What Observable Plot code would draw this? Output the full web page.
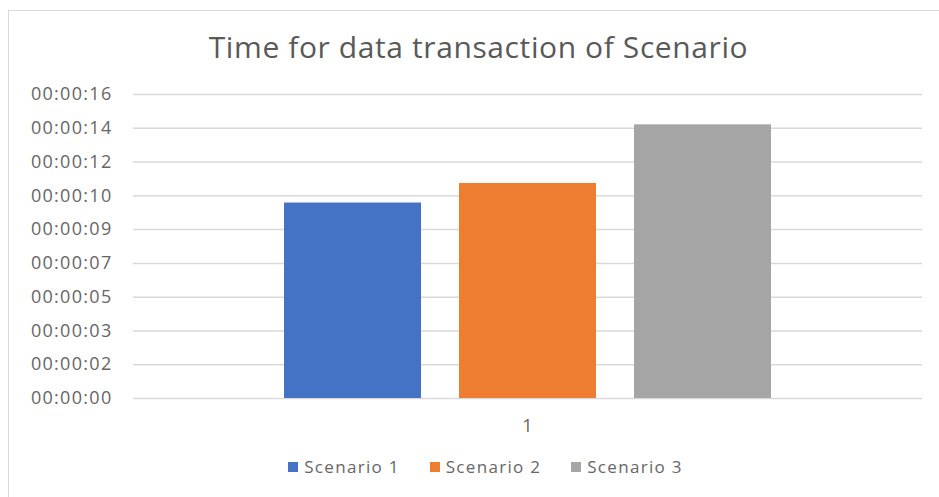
<!DOCTYPE html>
<html>
<head>
<meta charset="utf-8">
<script src="https://cdn.jsdelivr.net/npm/d3@7"></script>
<script src="https://cdn.jsdelivr.net/npm/@observablehq/plot@0.6"></script>
<style>
  html, body { margin: 0; padding: 0; background: #fff; }
  #wrap { position: relative; width: 939px; height: 497px; overflow: hidden; background: #fff; font-family: "Open Sans", sans-serif; }
  #frame { position: absolute; left: 8px; top: 10px; width: 960px; height: 520px; border: 1.5px solid #d9d9d9; box-sizing: border-box; pointer-events: none; }
  #title { position: relative; height: 80px; box-sizing: border-box; padding-top: 32px; padding-left: 18px; line-height: 30px; font-size: 30px; letter-spacing: 0.6px; color: #595959; text-align: center; white-space: nowrap; }
  #chart { position: relative; height: 365px; }
  #chart svg { display: block; }
  #legend { position: relative; height: 52px; box-sizing: border-box; padding-top: 12px; padding-left: 32px; display: flex; justify-content: center; align-items: flex-start; gap: 30px; line-height: 20px; font-size: 17px; letter-spacing: 1.3px; color: #666; }
  .item { display: flex; align-items: center; gap: 6px; height: 20px; }
  .sw { width: 10px; height: 10px; display: inline-block; }
</style>
</head>
<body>
<div id="wrap">
  <div id="frame"></div>
  <div id="title"></div>
  <div id="chart"></div>
  <div id="legend"></div>
</div>
<script>
// ---- data ----
const chartTitle = "Time for data transaction of Scenario";
const groups = ["1"];
const scenarios = ["Scenario 1", "Scenario 2", "Scenario 3"];
const seconds = [10, 11, 14];
const colors = ["#4472C4", "#ED7D31", "#A5A5A5"];
const yTickValues = [0, 1.728, 3.456, 5.184, 6.912, 8.64, 10.368, 12.096, 13.824, 15.552];
const yTickLabels = ["00:00:00", "00:00:02", "00:00:03", "00:00:05", "00:00:07", "00:00:09", "00:00:10", "00:00:12", "00:00:14", "00:00:16"];

const data = scenarios.map((s, i) => ({group: groups[0], scenario: s, seconds: seconds[i]}));

document.getElementById("title").textContent = chartTitle;

const plot = Plot.plot({
  width: 939,
  height: 365,
  marginLeft: 133,
  marginRight: 17,
  marginTop: 14,
  marginBottom: 47,
  style: {fontFamily: "Open Sans, sans-serif", fontSize: "18px", color: "#666", background: "transparent", letterSpacing: "1.3px"},
  fx: {domain: groups, padding: 0, axis: "bottom", tickSize: 0, tickPadding: 21, label: null},
  x: {domain: scenarios, paddingInner: 0.2145, paddingOuter: 0.857, axis: null},
  y: {domain: [0, yTickValues[yTickValues.length - 1]], axis: null},
  color: {domain: scenarios, range: colors},
  marks: [
    Plot.gridY(yTickValues, {stroke: "#d9d9d9", strokeOpacity: 1, strokeWidth: 1.5}),
    Plot.axisY(yTickValues, {
      tickSize: 0, tickPadding: 21, label: null,
      tickFormat: (d) => yTickLabels[yTickValues.indexOf(d)],
      fill: "#666"
    }),
    Plot.barY(data, {fx: "group", x: "scenario", y: "seconds", fill: "scenario"})
  ]
});
document.getElementById("chart").appendChild(plot);

const legend = document.getElementById("legend");
scenarios.forEach((s, i) => {
  const item = document.createElement("div");
  item.className = "item";
  const sw = document.createElement("span");
  sw.className = "sw";
  sw.style.background = colors[i];
  const t = document.createElement("span");
  t.textContent = s;
  item.appendChild(sw);
  item.appendChild(t);
  legend.appendChild(item);
});
</script>
</body>
</html>
